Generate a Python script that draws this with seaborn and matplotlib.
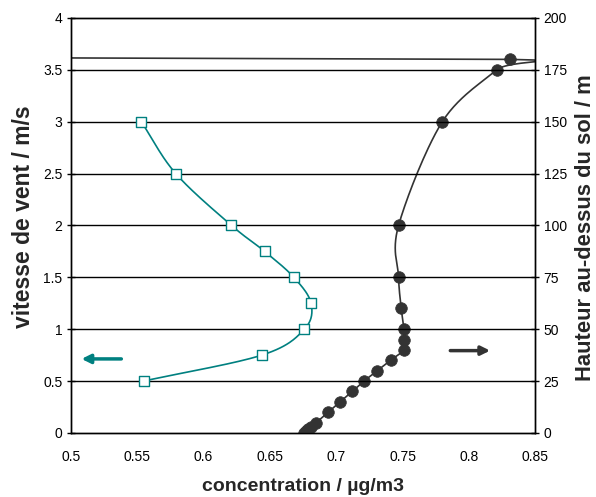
import numpy as np
import pandas as pd
import matplotlib
matplotlib.use("Agg")
import matplotlib.pyplot as plt
import seaborn as sns

# ---- data ----
wind_conc = [0.553, 0.579, 0.621, 0.646, 0.668, 0.681, 0.676, 0.644, 0.555]
wind_speed = [3.0, 2.5, 2.0, 1.75, 1.5, 1.25, 1.0, 0.75, 0.5]

height_conc = [0.676, 0.6775, 0.679, 0.681, 0.685, 0.694, 0.703, 0.712, 0.721,
               0.731, 0.741, 0.751, 0.751, 0.751, 0.749, 0.747, 0.747, 0.780,
               0.821, 0.831]
height_m = [0, 1, 2, 3, 5, 10, 15, 20, 25, 30, 35, 40, 45, 50, 60, 75, 100,
            150, 175, 180]
# last value of the profile line, off the left of the axis
tail_conc = [0.45]
tail_height = [180.8]

x_ticks = [0.5, 0.55, 0.6, 0.65, 0.7, 0.75, 0.8, 0.85]
left_ticks = [0, 0.5, 1, 1.5, 2, 2.5, 3, 3.5, 4]
right_ticks = [0, 25, 50, 75, 100, 125, 150, 175, 200]

TEAL = "#008080"
DARK = "#333333"


def smooth(xs, ys, sx, sy, n=30, straight_last=False):
    """Catmull-Rom curve through the points (scaled to comparable units)."""
    p = np.column_stack([np.asarray(xs) / sx, np.asarray(ys) / sy])
    p = np.vstack([p[0] * 2 - p[1], p, p[-1] * 2 - p[-2]])
    out = []
    t = np.linspace(0, 1, n)[:, None]
    nseg = len(p) - 3
    for k, i in enumerate(range(1, len(p) - 2)):
        p0, p1, p2, p3 = p[i - 1], p[i], p[i + 1], p[i + 2]
        if straight_last and k == nseg - 1:
            seg = p1 + (p2 - p1) * t
        else:
            seg = 0.5 * ((2 * p1) + (-p0 + p2) * t + (2 * p0 - 5 * p1 + 4 * p2 - p3) * t ** 2
                         + (-p0 + 3 * p1 - 3 * p2 + p3) * t ** 3)
        out.append(seg if i == 1 else seg[1:])
    out = np.vstack(out)
    return out[:, 0] * sx, out[:, 1] * sy


sns.set_theme(style="white")
plt.rcParams["font.family"] = ["Liberation Sans", "DejaVu Sans"]

fig = plt.figure(figsize=(5.96, 4.97), dpi=100)
ax = fig.add_axes([0.119, 0.129, 0.779, 0.835])
ax2 = ax.twinx()

# grid lines at left-axis ticks
for v in left_ticks[1:-1]:
    ax.axhline(v, color="black", lw=1.0, zorder=0)

# wind speed profile (left axis)
sx, sy = smooth(wind_conc, wind_speed, 0.35, 4.0)
sns.lineplot(x=sx, y=sy, sort=False, estimator=None, ax=ax, color=TEAL, lw=1.2)
sns.scatterplot(x=wind_conc, y=wind_speed, ax=ax, marker="s", s=60,
                facecolor="white", edgecolor=TEAL, linewidth=1.0, zorder=5)

# concentration vs height (right axis)
hx, hy = smooth(height_conc + tail_conc, height_m + tail_height, 0.35, 200.0,
                straight_last=True)
sns.lineplot(x=hx, y=hy, sort=False, estimator=None, ax=ax2, color=DARK, lw=1.2)
sns.scatterplot(x=height_conc, y=height_m, ax=ax2, marker="o", s=70,
                color=DARK, edgecolor=DARK, linewidth=0.5, zorder=5)

ax.set_xlim(0.5, 0.85)
ax.set_ylim(0, 4)
ax2.set_ylim(0, 200)
ax.set_xticks(x_ticks)
ax.set_xticklabels([f"{v:g}" for v in x_ticks])
ax.set_yticks(left_ticks)
ax.set_yticklabels([f"{v:g}" for v in left_ticks])
ax2.set_yticks(right_ticks)
ax2.set_yticklabels([f"{v:g}" for v in right_ticks])

for a in (ax, ax2):
    for s in a.spines.values():
        s.set_color("black")
        s.set_linewidth(1.0)
    a.tick_params(direction="inout", length=6, width=1, colors="black",
                  labelsize=10)
ax.tick_params(axis="x", pad=9)
ax.tick_params(axis="y", pad=3)
ax2.tick_params(axis="y", pad=3)

ax.set_xlabel("concentration / µg/m3", fontsize=14, fontweight="bold")
ax.xaxis.set_label_coords(0.5, -0.128)
ax.xaxis.label.set_va("center")
ax.set_ylabel("vitesse de vent / m/s", fontsize=16.5, fontweight="bold")
ax.yaxis.set_label_coords(-0.102, 0.52)
ax.yaxis.label.set_va("center")
ax2.set_ylabel("Hauteur au-dessus du sol / m", fontsize=15.8, fontweight="bold")
ax2.yaxis.set_label_coords(1.108, 0.495)
ax2.yaxis.label.set_va("center")

# direction arrows
ax.annotate("", xy=(0.508, 0.713), xytext=(0.538, 0.713),
            arrowprops=dict(arrowstyle="-|>", color=TEAL, lw=2.5,
                            mutation_scale=13, shrinkA=0, shrinkB=0))
ax.annotate("", xy=(0.816, 0.793), xytext=(0.786, 0.793),
            arrowprops=dict(arrowstyle="-|>", color=DARK, lw=2.5,
                            mutation_scale=13, shrinkA=0, shrinkB=0))

ax.set_zorder(ax2.get_zorder() + 1)
ax.patch.set_visible(False)
fig.savefig("out.png", dpi=100)
